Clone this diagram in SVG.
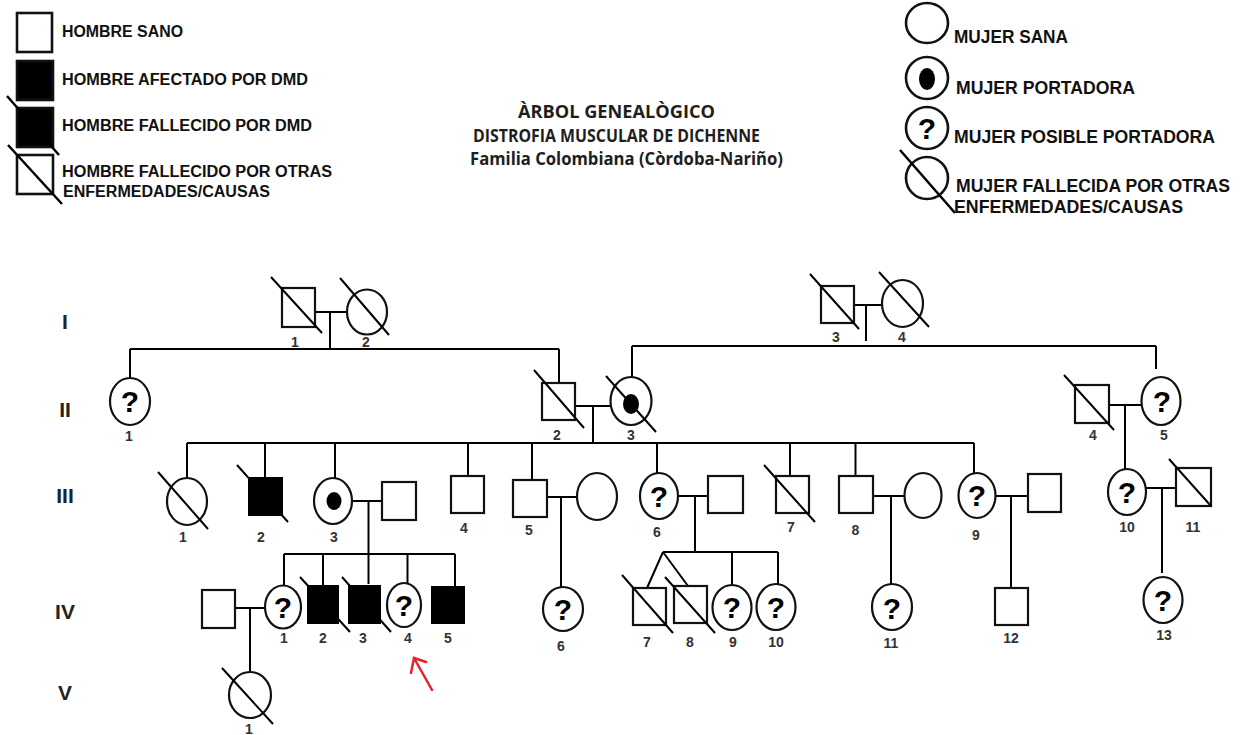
<svg xmlns="http://www.w3.org/2000/svg" width="1241" height="735" viewBox="0 0 1241 735">
<style>
.bg{fill:#fff}
.ln{stroke:#000;stroke-width:2;fill:none}
.sl{stroke:#000;stroke-width:2;fill:none}
.sym{stroke:#111;stroke-width:2.2;fill:#fff}
.aff{fill:#000;stroke:#000;stroke-width:2}
.dot{fill:#000}
.q{font-family:"Liberation Sans",Arial,sans-serif;font-weight:bold;font-size:30px;text-anchor:middle;fill:#000}
.num{font-family:"Liberation Sans",Arial,sans-serif;font-weight:bold;font-size:14px;text-anchor:middle;fill:#333}
.gen{font-family:"Liberation Sans",Arial,sans-serif;font-weight:bold;font-size:21px;text-anchor:middle;fill:#222}
.leg{font-family:"Liberation Sans",Arial,sans-serif;font-weight:bold;font-size:16.8px;fill:#111}
.legr{font-family:"Liberation Sans",Arial,sans-serif;font-weight:bold;font-size:18px;fill:#111}
.lsym{stroke:#111;stroke-width:2.6;fill:#fff}
.title{font-family:"Open Sans","Noto Sans","Liberation Sans",sans-serif;font-weight:700;font-size:18px;fill:#1e1e1e}
.arrow{stroke:#e3242b;stroke-width:2.5;fill:none;stroke-linecap:round}
</style>
<rect class="bg" x="0" y="0" width="1241" height="735"/>

<!-- Legend left -->
<g id="legend-left">
  <rect class="lsym" x="17" y="13" width="35" height="39"/>
  <text class="leg" x="62" y="37" textLength="121" lengthAdjust="spacingAndGlyphs">HOMBRE SANO</text>
  <rect class="lsym" x="17" y="61" width="36" height="39" style="fill:#000"/>
  <text class="leg" x="62" y="85" textLength="246" lengthAdjust="spacingAndGlyphs">HOMBRE AFECTADO POR DMD</text>
  <rect class="lsym" x="17" y="108" width="36" height="39" style="fill:#000"/>
  <line class="sl" x1="7" y1="96" x2="59" y2="155" style="stroke-width:2.5"/>
  <text class="leg" x="62" y="131" textLength="250" lengthAdjust="spacingAndGlyphs">HOMBRE FALLECIDO POR DMD</text>
  <rect class="lsym" x="17" y="155" width="36" height="39"/>
  <line class="sl" x1="8" y1="145" x2="62" y2="204" style="stroke-width:2.5"/>
  <text class="leg" x="62" y="177" textLength="270" lengthAdjust="spacingAndGlyphs">HOMBRE FALLECIDO POR OTRAS</text>
  <text class="leg" x="63" y="197" textLength="207" lengthAdjust="spacingAndGlyphs">ENFERMEDADES/CAUSAS</text>
</g>

<!-- Legend right -->
<g id="legend-right">
  <ellipse class="lsym" cx="927" cy="23" rx="21" ry="20"/>
  <text class="legr" x="954" y="43" textLength="114" lengthAdjust="spacingAndGlyphs">MUJER SANA</text>
  <ellipse class="lsym" cx="927" cy="78" rx="21" ry="21"/>
  <ellipse class="dot" cx="927" cy="79" rx="8" ry="11"/>
  <text class="legr" x="956" y="94" textLength="179" lengthAdjust="spacingAndGlyphs">MUJER PORTADORA</text>
  <ellipse class="lsym" cx="927" cy="128" rx="21" ry="21"/>
  <text class="q" x="927" y="139">?</text>
  <text class="legr" x="954" y="143" textLength="261" lengthAdjust="spacingAndGlyphs">MUJER POSIBLE PORTADORA</text>
  <ellipse class="lsym" cx="927" cy="178" rx="21" ry="21"/>
  <line class="sl" x1="900" y1="150" x2="955" y2="213" style="stroke-width:2.5"/>
  <text class="legr" x="956" y="192" textLength="274" lengthAdjust="spacingAndGlyphs">MUJER FALLECIDA POR OTRAS</text>
  <text class="legr" x="954" y="213" textLength="229" lengthAdjust="spacingAndGlyphs">ENFERMEDADES/CAUSAS</text>
</g>

<!-- Title -->
<g id="title">
  <text class="title" x="518" y="118" textLength="197" lengthAdjust="spacingAndGlyphs">ÀRBOL GENEALÒGICO</text>
  <text class="title" x="473" y="142" textLength="287" lengthAdjust="spacingAndGlyphs">DISTROFIA MUSCULAR DE DICHENNE</text>
  <text class="title" x="470" y="165" textLength="313" lengthAdjust="spacingAndGlyphs">Familia Colombiana (Còrdoba-Nariño)</text>
</g>

<!-- Generation labels -->
<g id="generations">
  <text class="gen" x="65" y="329">I</text>
  <text class="gen" x="65" y="417">II</text>
  <text class="gen" x="65" y="503">III</text>
  <text class="gen" x="65" y="619">IV</text>
  <text class="gen" x="65" y="700">V</text>
</g>

<!-- Connectors -->
<g id="connectors" class="ln">
  <line x1="315" y1="312" x2="347" y2="312"/>
  <line x1="330" y1="312" x2="330" y2="349"/>
  <line x1="130" y1="349" x2="559" y2="349"/>
  <line x1="130" y1="349" x2="130" y2="378"/>
  <line x1="559" y1="349" x2="559" y2="383"/>
  <line x1="854" y1="305" x2="882" y2="305"/>
  <line x1="866" y1="305" x2="866" y2="341"/>
  <line x1="632" y1="346" x2="1156" y2="346"/>
  <line x1="632" y1="346" x2="632" y2="377"/>
  <line x1="1156" y1="346" x2="1156" y2="369"/>
  <line x1="575" y1="406" x2="610" y2="406"/>
  <line x1="593" y1="406" x2="593" y2="443"/>
  <line x1="187" y1="443" x2="974" y2="443"/>
  <line x1="187" y1="443" x2="187" y2="478"/>
  <line x1="265" y1="443" x2="265" y2="478"/>
  <line x1="335" y1="443" x2="335" y2="478"/>
  <line x1="468" y1="443" x2="468" y2="476"/>
  <line x1="532" y1="443" x2="532" y2="480"/>
  <line x1="657" y1="443" x2="657" y2="473"/>
  <line x1="790" y1="443" x2="790" y2="476"/>
  <line x1="855.5" y1="443" x2="855.5" y2="476"/>
  <line x1="974" y1="443" x2="974" y2="473"/>
  <line x1="1109" y1="405" x2="1141" y2="405"/>
  <line x1="1125" y1="405" x2="1125" y2="469"/>
  <line x1="352" y1="501" x2="382" y2="501"/>
  <line x1="368.5" y1="501" x2="368.5" y2="584"/>
  <line x1="284" y1="554" x2="455" y2="554"/>
  <line x1="284" y1="554" x2="284" y2="586"/>
  <line x1="323" y1="554" x2="323" y2="586"/>
  <line x1="407.5" y1="554" x2="407.5" y2="583"/>
  <line x1="455" y1="554" x2="455" y2="587"/>
  <line x1="547" y1="497" x2="577" y2="497"/>
  <line x1="561" y1="497" x2="561" y2="587"/>
  <line x1="678" y1="496" x2="708" y2="496"/>
  <line x1="695" y1="496" x2="695" y2="552"/>
  <line x1="663" y1="552" x2="778" y2="552"/>
  <line x1="663" y1="552" x2="647" y2="588"/>
  <line x1="663" y1="552" x2="688" y2="586"/>
  <line x1="732" y1="552" x2="732" y2="585"/>
  <line x1="778" y1="552" x2="778" y2="584"/>
  <line x1="873" y1="496" x2="905" y2="496"/>
  <line x1="891" y1="496" x2="891" y2="584"/>
  <line x1="996" y1="496" x2="1028" y2="496"/>
  <line x1="1011" y1="496" x2="1011" y2="588"/>
  <line x1="1146" y1="488" x2="1176" y2="488"/>
  <line x1="1162" y1="488" x2="1162" y2="573"/>
  <line x1="235" y1="608" x2="265" y2="608"/>
  <line x1="250" y1="608" x2="250" y2="672"/>
</g>

<!-- Generation I -->
<g id="I-1"><rect class="sym" x="282" y="288" width="33" height="39"/><line class="sl" x1="271" y1="277" x2="322" y2="333"/><text class="num" x="295" y="347">1</text></g>
<g id="I-2"><ellipse class="sym" cx="367" cy="312" rx="20" ry="22.5"/><line class="sl" x1="340" y1="278" x2="389" y2="335"/><text class="num" x="366" y="347">2</text></g>
<g id="I-3"><rect class="sym" x="821" y="286" width="33" height="37"/><line class="sl" x1="810" y1="274" x2="859" y2="329"/><text class="num" x="836" y="342">3</text></g>
<g id="I-4"><ellipse class="sym" cx="902.5" cy="303.5" rx="20.5" ry="23.5"/><line class="sl" x1="879" y1="272" x2="929" y2="327"/><text class="num" x="902" y="342">4</text></g>

<!-- Generation II -->
<g id="II-1"><ellipse class="sym" cx="130" cy="401.5" rx="20" ry="23.5"/><text class="q" x="130" y="412">?</text><text class="num" x="129" y="441">1</text></g>
<g id="II-2"><rect class="sym" x="542" y="383" width="33" height="37"/><line class="sl" x1="534" y1="370" x2="584" y2="428"/><text class="num" x="557" y="440">2</text></g>
<g id="II-3"><ellipse class="sym" cx="631" cy="401" rx="20.5" ry="24"/><ellipse class="dot" cx="631" cy="404" rx="8" ry="10"/><line class="sl" x1="606" y1="376" x2="656" y2="432"/><text class="num" x="631" y="440">3</text></g>
<g id="II-4"><rect class="sym" x="1075" y="385" width="34" height="38"/><line class="sl" x1="1064" y1="375" x2="1114" y2="430"/><text class="num" x="1093" y="440">4</text></g>
<g id="II-5"><ellipse class="sym" cx="1161" cy="401" rx="19.5" ry="24"/><text class="q" x="1162" y="412">?</text><text class="num" x="1164" y="440">5</text></g>

<!-- Generation III -->
<g id="III-1"><ellipse class="sym" cx="187" cy="501.5" rx="20" ry="23.5"/><line class="sl" x1="158" y1="472" x2="208" y2="529"/><text class="num" x="183" y="542">1</text></g>
<g id="III-2"><rect class="aff" x="249" y="478" width="33" height="37"/><line class="sl" x1="237" y1="465" x2="288" y2="522"/><text class="num" x="261" y="542">2</text></g>
<g id="III-3"><ellipse class="sym" cx="333" cy="501" rx="19" ry="23"/><ellipse class="dot" cx="334" cy="501" rx="7.5" ry="9"/><text class="num" x="334" y="542">3</text></g>
<g id="III-3-partner"><rect class="sym" x="382" y="482" width="34" height="38"/></g>
<g id="III-4"><rect class="sym" x="451" y="476" width="33" height="37"/><text class="num" x="464" y="533">4</text></g>
<g id="III-5"><rect class="sym" x="513" y="480" width="34" height="37"/><text class="num" x="529" y="535">5</text></g>
<g id="III-5-partner"><ellipse class="sym" cx="597" cy="496.5" rx="20" ry="23.5"/></g>
<g id="III-6"><ellipse class="sym" cx="659" cy="496" rx="19" ry="23"/><text class="q" x="659" y="507">?</text><text class="num" x="657" y="537">6</text></g>
<g id="III-6-partner"><rect class="sym" x="708" y="476" width="35" height="37"/></g>
<g id="III-7"><rect class="sym" x="776" y="476" width="33" height="37"/><line class="sl" x1="764" y1="465" x2="815" y2="522"/><text class="num" x="791" y="532">7</text></g>
<g id="III-8"><rect class="sym" x="839" y="476" width="34" height="37"/><text class="num" x="855.5" y="535">8</text></g>
<g id="III-8-partner"><ellipse class="sym" cx="923" cy="495.5" rx="18.5" ry="22.5"/></g>
<g id="III-9"><ellipse class="sym" cx="977" cy="495.5" rx="18.5" ry="22.5"/><text class="q" x="977" y="506">?</text><text class="num" x="976" y="540">9</text></g>
<g id="III-9-partner"><rect class="sym" x="1028" y="474" width="33" height="38"/></g>
<g id="III-10"><ellipse class="sym" cx="1127" cy="492" rx="19" ry="23"/><text class="q" x="1127" y="503">?</text><text class="num" x="1127" y="532">10</text></g>
<g id="III-11"><rect class="sym" x="1176" y="468" width="35" height="38"/><line class="sl" x1="1169" y1="459" x2="1211" y2="506"/><text class="num" x="1193" y="532">11</text></g>

<!-- Generation IV -->
<g id="IV-1-partner"><rect class="sym" x="202" y="590" width="33" height="38"/></g>
<g id="IV-1"><ellipse class="sym" cx="283" cy="607" rx="18" ry="21.5"/><text class="q" x="283" y="618">?</text><text class="num" x="284" y="643">1</text></g>
<g id="IV-2"><rect class="aff" x="308" y="586" width="30" height="37"/><line class="sl" x1="300" y1="577" x2="350" y2="632"/><text class="num" x="323" y="643">2</text></g>
<g id="IV-3"><rect class="aff" x="349" y="586" width="31" height="37"/><line class="sl" x1="342" y1="577" x2="391" y2="632"/><text class="num" x="363" y="643">3</text></g>
<g id="IV-4"><ellipse class="sym" cx="404" cy="605" rx="17" ry="22"/><text class="q" x="404" y="616">?</text><text class="num" x="408" y="643">4</text></g>
<g id="IV-5"><rect class="aff" x="432" y="587" width="32" height="36"/><text class="num" x="448" y="643">5</text></g>
<g id="IV-6"><ellipse class="sym" cx="563" cy="609" rx="20" ry="22"/><text class="q" x="563" y="620">?</text><text class="num" x="561" y="651">6</text></g>
<g id="IV-7"><rect class="sym" x="633" y="588" width="33" height="37"/><line class="sl" x1="622" y1="575" x2="673" y2="633"/><text class="num" x="647" y="647">7</text></g>
<g id="IV-8"><rect class="sym" x="674" y="586" width="33" height="37"/><line class="sl" x1="665" y1="577" x2="715" y2="633"/><text class="num" x="690" y="647">8</text></g>
<g id="IV-9"><ellipse class="sym" cx="732" cy="607.5" rx="19.5" ry="22.5"/><text class="q" x="732" y="618">?</text><text class="num" x="733" y="647">9</text></g>
<g id="IV-10"><ellipse class="sym" cx="776" cy="607" rx="19.5" ry="23"/><text class="q" x="776" y="618">?</text><text class="num" x="776" y="647">10</text></g>
<g id="IV-11"><ellipse class="sym" cx="892" cy="607" rx="20" ry="23"/><text class="q" x="892" y="619">?</text><text class="num" x="891" y="648">11</text></g>
<g id="IV-12"><rect class="sym" x="995" y="588" width="33" height="37"/><text class="num" x="1011" y="643">12</text></g>
<g id="IV-13"><ellipse class="sym" cx="1163" cy="600" rx="19.5" ry="23"/><text class="q" x="1163" y="611">?</text><text class="num" x="1164" y="640">13</text></g>

<!-- Generation V -->
<g id="V-1"><ellipse class="sym" cx="250" cy="695" rx="21" ry="23"/><line class="sl" x1="222" y1="668" x2="273" y2="724"/><text class="num" x="249" y="734">1</text></g>

<!-- Proband arrow -->
<g id="proband-arrow" class="arrow">
  <line x1="432" y1="690" x2="414" y2="658"/>
  <polyline points="411,673 414,658 426,662"/>
</g>
</svg>
